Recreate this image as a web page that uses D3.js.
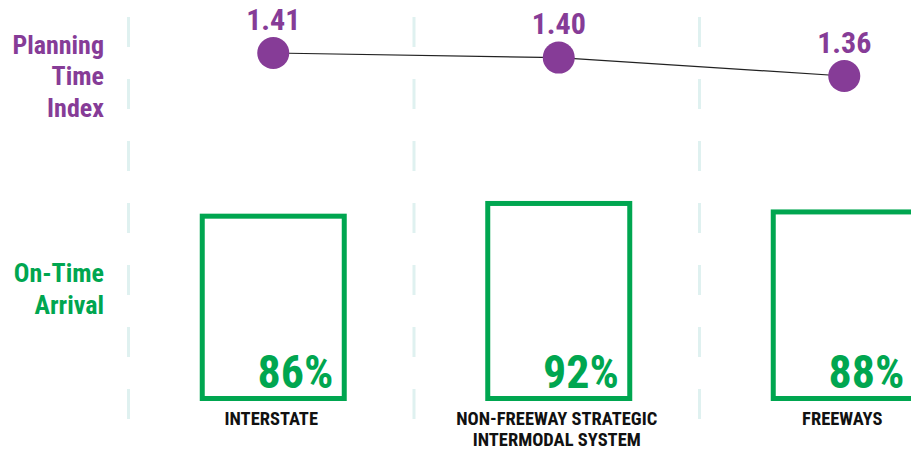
<!DOCTYPE html>
<html>
<head>
<meta charset="utf-8">
<script src="https://cdn.jsdelivr.net/npm/d3@7"></script>
<style>
  html, body { margin: 0; padding: 0; background: #fff; }
  svg text { font-family: "Roboto", "Liberation Sans", sans-serif; font-weight: 700; font-stretch: condensed; }
</style>
</head>
<body>
<div id="viz"></div>
<script>
// dados
const categories = ['INTERSTATE', 'NON-FREEWAY STRATEGIC|INTERMODAL SYSTEM', 'FREEWAYS'];
const planningTimeIndex = [1.41, 1.40, 1.36];
const onTimeArrival = [86, 92, 88];
const rowLabels = [
  { lines: ['Planning', 'Time', 'Index'], color: '#863c97', y: 53.7 },
  { lines: ['On-Time', 'Arrival'], color: '#00a650', y: 282 }
];

const width = 911, height = 450;
const purple = '#863c97', green = '#00a650', gridColor = '#dff1f0';

const svg = d3.select('#viz').append('svg')
  .attr('width', width)
  .attr('height', height);

// escala das colunas
const x = d3.scaleBand().domain(d3.range(categories.length)).range([129.5, 986]).padding(0);
const yBar = d3.scaleLinear().domain([0, 100]).range([398.5, 186.5]);
const yDot = d3.scaleLinear().domain([1.36, 1.41]).range([76, 53]);

// linhas tracejadas de separação
svg.append('g').selectAll('line')
  .data(d3.range(categories.length + 1))
  .enter().append('line')
  .attr('x1', d => x.range()[0] + d * x.bandwidth() - 1)
  .attr('x2', d => x.range()[0] + d * x.bandwidth() - 1)
  .attr('y1', 17).attr('y2', 420)
  .style('stroke', gridColor)
  .style('stroke-width', 3)
  .style('stroke-dasharray', '30,32');

// rótulos das linhas (esquerda)
rowLabels.forEach(r => {
  const t = svg.append('text')
    .attr('text-anchor', 'end')
    .style('fill', r.color)
    .style('font-size', '26px');
  r.lines.forEach((l, i) => {
    t.append('tspan').attr('x', 104).attr('y', r.y + i * 31.5).text(l);
  });
});

// --- Planning Time Index ---
const cx = i => x(i) + x.bandwidth() / 2 + 1;
const line = d3.line().x((d, i) => cx(i)).y(d => yDot(d));
svg.append('path')
  .attr('d', line(planningTimeIndex))
  .style('fill', 'none')
  .style('stroke', '#222')
  .style('stroke-width', 1.2);

svg.append('g').selectAll('circle')
  .data(planningTimeIndex).enter()
  .append('circle')
  .attr('cx', (d, i) => cx(i))
  .attr('cy', d => yDot(d))
  .attr('r', 16)
  .style('fill', purple);

svg.append('g').selectAll('text')
  .data(planningTimeIndex).enter()
  .append('text')
  .attr('x', (d, i) => cx(i))
  .attr('y', d => yDot(d) - 23.5)
  .attr('text-anchor', 'middle')
  .style('fill', purple)
  .style('font-size', '30px')
  .text(d => d.toFixed(2));

// --- On-Time Arrival ---
const barW = 142;
svg.append('g').selectAll('rect')
  .data(onTimeArrival).enter()
  .append('rect')
  .attr('x', (d, i) => cx(i) - barW / 2)
  .attr('y', d => yBar(d))
  .attr('width', barW)
  .attr('height', d => yBar(0) - yBar(d))
  .style('fill', 'none')
  .style('stroke', green)
  .style('stroke-width', 5);

svg.append('g').selectAll('text')
  .data(onTimeArrival).enter()
  .append('text')
  .attr('x', (d, i) => cx(i) + barW / 2 - 11)
  .attr('y', yBar(0) - 10.5)
  .attr('text-anchor', 'end')
  .style('fill', green)
  .style('font-size', '46px')
  .text(d => d + '%');

// rótulos das categorias
categories.forEach((c, i) => {
  const t = svg.append('text')
    .attr('text-anchor', 'middle')
    .style('fill', '#111')
    .style('font-size', '18.5px');
  c.split('|').forEach((l, j) => {
    t.append('tspan').attr('x', cx(i) - 2).attr('y', 425 + j * 21).text(l);
  });
});
</script>
</body>
</html>
